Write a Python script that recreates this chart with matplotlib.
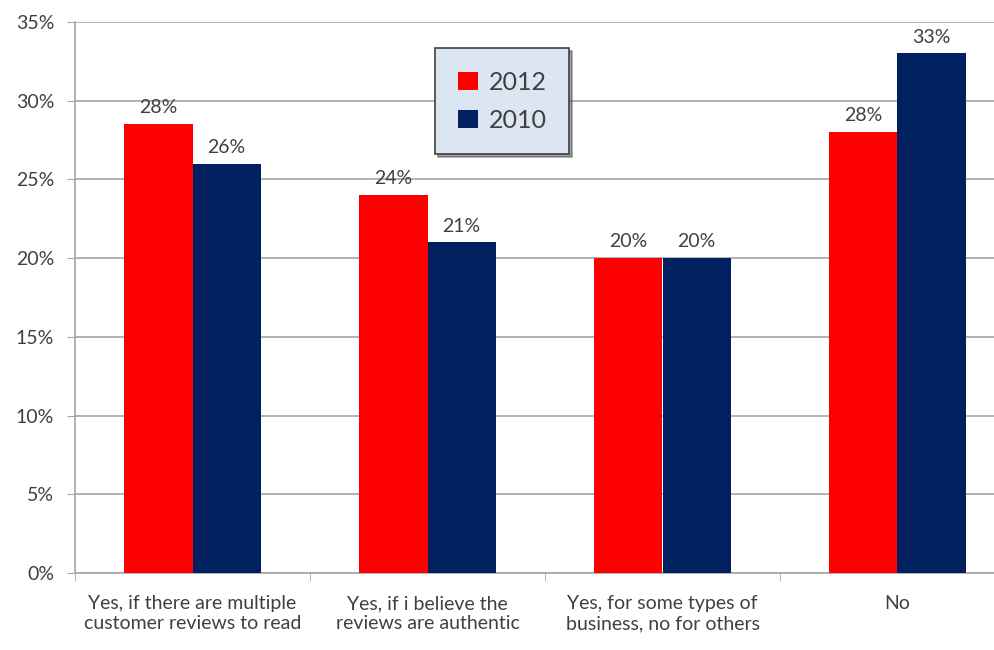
import numpy as np
import matplotlib.pyplot as plt
from matplotlib.ticker import FixedLocator, NullFormatter

categories = ["Yes, if there are multiple\ncustomer reviews to read",
              "Yes, if i believe the\nreviews are authentic",
              "Yes, for some types of\nbusiness, no for others",
              "No"]
vals_2012 = [28.5, 24, 20, 28]
vals_2010 = [26, 21, 20, 33]
labels_2012 = ["28%", "24%", "20%", "28%"]
labels_2010 = ["26%", "21%", "20%", "33%"]

plt.rcParams["font.family"] = ["Lato", "DejaVu Sans"]
txt = "#404040"
grid_c = "#a6a6a6"

fig = plt.figure(figsize=(9.94, 6.5), dpi=100)
ax = fig.add_axes([75 / 994, 1 - 573 / 650, 1 - 75 / 994, (573 - 22) / 650])

x = np.arange(len(categories))
w = 0.29
b1 = ax.bar(x - w / 2, vals_2012, w, color="#ff0000", label="2012", zorder=3)
b2 = ax.bar(x + w / 2, vals_2010, w, color="#002060", label="2010", zorder=3)

for rects, labs in ((b1, labels_2012), (b2, labels_2010)):
    for r, lab in zip(rects, labs):
        ax.text(r.get_x() + r.get_width() / 2, r.get_height() + 0.5, lab,
                ha="center", va="bottom", fontsize=14, color=txt)

ax.set_ylim(0, 35)
ax.set_xlim(-0.5, -0.5 + 919 / 235)
ax.set_yticks(range(0, 36, 5))
ax.set_yticklabels([f"{v}%" for v in range(0, 36, 5)], fontsize=14, color=txt)
ax.yaxis.grid(True, color=grid_c, linewidth=1.2, zorder=0)
ax.tick_params(axis="y", length=6, color=grid_c, pad=9)

ax.set_xticks(x)
ax.set_xticklabels(categories, fontsize=14, color=txt, linespacing=1.2)
ax.tick_params(axis="x", which="major", length=0, pad=16)
ax.xaxis.set_minor_locator(FixedLocator(np.arange(-0.5, 4, 1)))
ax.xaxis.set_minor_formatter(NullFormatter())
ax.tick_params(axis="x", which="minor", length=6, color=grid_c)

for s in ("top", "right"):
    ax.spines[s].set_visible(False)
for s in ("left", "bottom"):
    ax.spines[s].set_color(grid_c)
    ax.spines[s].set_linewidth(1.2)

leg = ax.legend(loc="upper left", bbox_to_anchor=(435 / 994, 1 - 48 / 650),
                bbox_transform=fig.transFigure, fontsize=18, frameon=True,
                fancybox=False, shadow=True, handlelength=0.8, handleheight=0.75,
                handletextpad=0.45, labelspacing=0.6, borderpad=0.9,
                borderaxespad=0)
leg.get_frame().set_facecolor("#dce6f2")
leg.get_frame().set_edgecolor("#404040")
leg.get_frame().set_linewidth(1.2)
for t in leg.get_texts():
    t.set_color(txt)

fig.savefig("out.png", dpi=100)
